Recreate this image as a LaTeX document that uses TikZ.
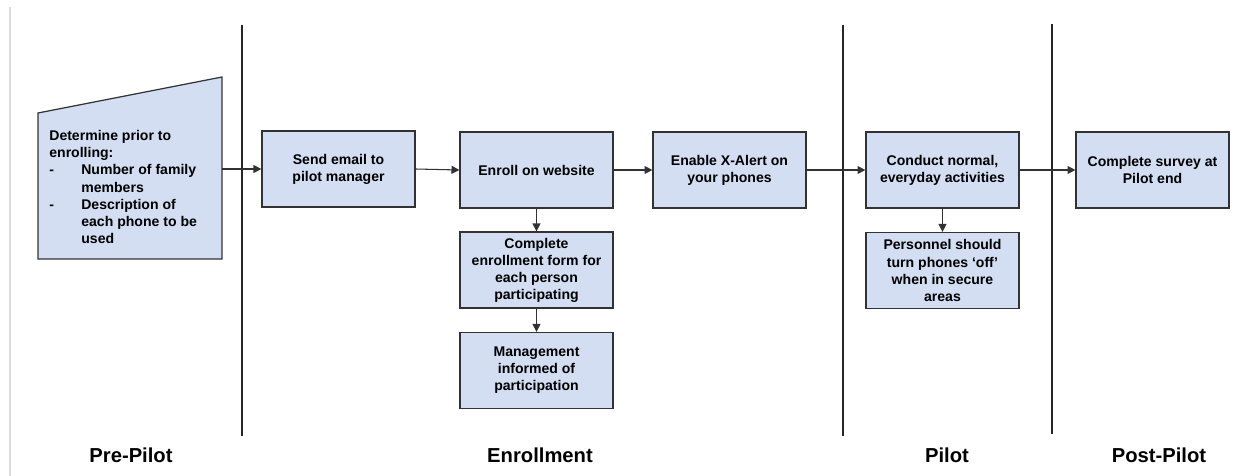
\documentclass[tikz,border=0pt]{standalone}
\usepackage{fontspec}
\setmainfont{Liberation Sans}
\usetikzlibrary{arrows.meta}
\definecolor{boxblue}{RGB}{211,222,242}
\definecolor{linegray}{RGB}{50,50,50}
\tikzset{
	task/.style={draw=linegray, line width=0.7pt, fill=boxblue, minimum width=3.06cm, minimum height=1.52cm, inner sep=1pt, align=center, font=\fontsize{8}{9.7}\selectfont\bfseries},
	flow/.style={draw=linegray, line width=0.6pt, -{Triangle[length=4.5pt,width=4.5pt]}},
	phase/.style={font=\fontsize{11.5}{13.8}\selectfont\bfseries},
	lane/.style={line width=0.6pt, color=black!85}
}
\begin{document}
\begin{tikzpicture}[x=0.02cm, y=-0.02cm]
			%%%%% START %%%%%
			\useasboundingbox (0, 0) rectangle (1243, 476);
			
			\draw[color=black!14, line width=0.6pt] (10, 7) -- (10, 476);
			
			% lane separators
			\draw[lane] (242, 25) -- (242, 436);
			\draw[lane] (843, 25) -- (843, 436);
			\draw[lane] (1052, 24) -- (1052, 434);
			
			% pre-pilot
			\draw[draw=linegray, line width=0.7pt, fill=boxblue] (38, 113) -- (222, 77) -- (222, 259) -- (38, 259) -- cycle;
			\node[anchor=west, inner sep=0, align=left, font=\fontsize{8}{9.7}\selectfont\bfseries] (prep) at (49, 187)
			{Determine prior to\\ enrolling:\\ \makebox[0.64cm][l]{-}Number of family\\ \hspace*{0.64cm}members\\ \makebox[0.64cm][l]{-}Description of\\ \hspace*{0.64cm}each phone to be\\ \hspace*{0.64cm}used};
			\coordinate (prep-e) at (222, 169);
			
			% enrollment
			\node[task] (send) at (338.5, 169) {Send email to\\ pilot manager};
			\node[task] (enroll) at (536.5, 170) {Enroll on website};
			\node[task] (form) at (536.5, 270) {Complete\\ enrollment form for\\ each person\\ participating};
			\node[task] (mgmt) at (536.5, 370.5) {Management\\ informed of\\ participation};
			\node[task] (enable) at (729.5, 170) {Enable X-Alert on\\ your phones};
			
			% pilot
			\node[task] (conduct) at (942.5, 170) {Conduct normal,\\ everyday activities};
			\node[task] (secure) at (942.5, 270.5) {Personnel should\\ turn phones ‘off’\\ when in secure\\ areas};
			
			% post-pilot
			\node[task] (survey) at (1152.5, 170) {Complete survey at\\ Pilot end};
			
			\draw[flow] (prep-e) -- (send.west);
			\draw[flow] (send.east) -- (enroll.west);
			\draw[flow] (enroll.south) -- (form.north);
			\draw[flow] (form.south) -- (mgmt.north);
			\draw[flow] (enroll.east) -- (enable.west);
			\draw[flow] (enable.east) -- (conduct.west);
			\draw[flow] (conduct.south) -- (secure.north);
			\draw[flow] (conduct.east) -- (survey.west);
			
			\node[phase] (pre-lbl) at (131, 455) {Pre-Pilot};
			\node[phase] (enr-lbl) at (540, 455) {Enrollment};
			\node[phase] (pil-lbl) at (947, 455) {Pilot};
			\node[phase] (post-lbl) at (1159, 455) {Post-Pilot};
			
			%%%%% END %%%%%
\end{tikzpicture}
\end{document}
